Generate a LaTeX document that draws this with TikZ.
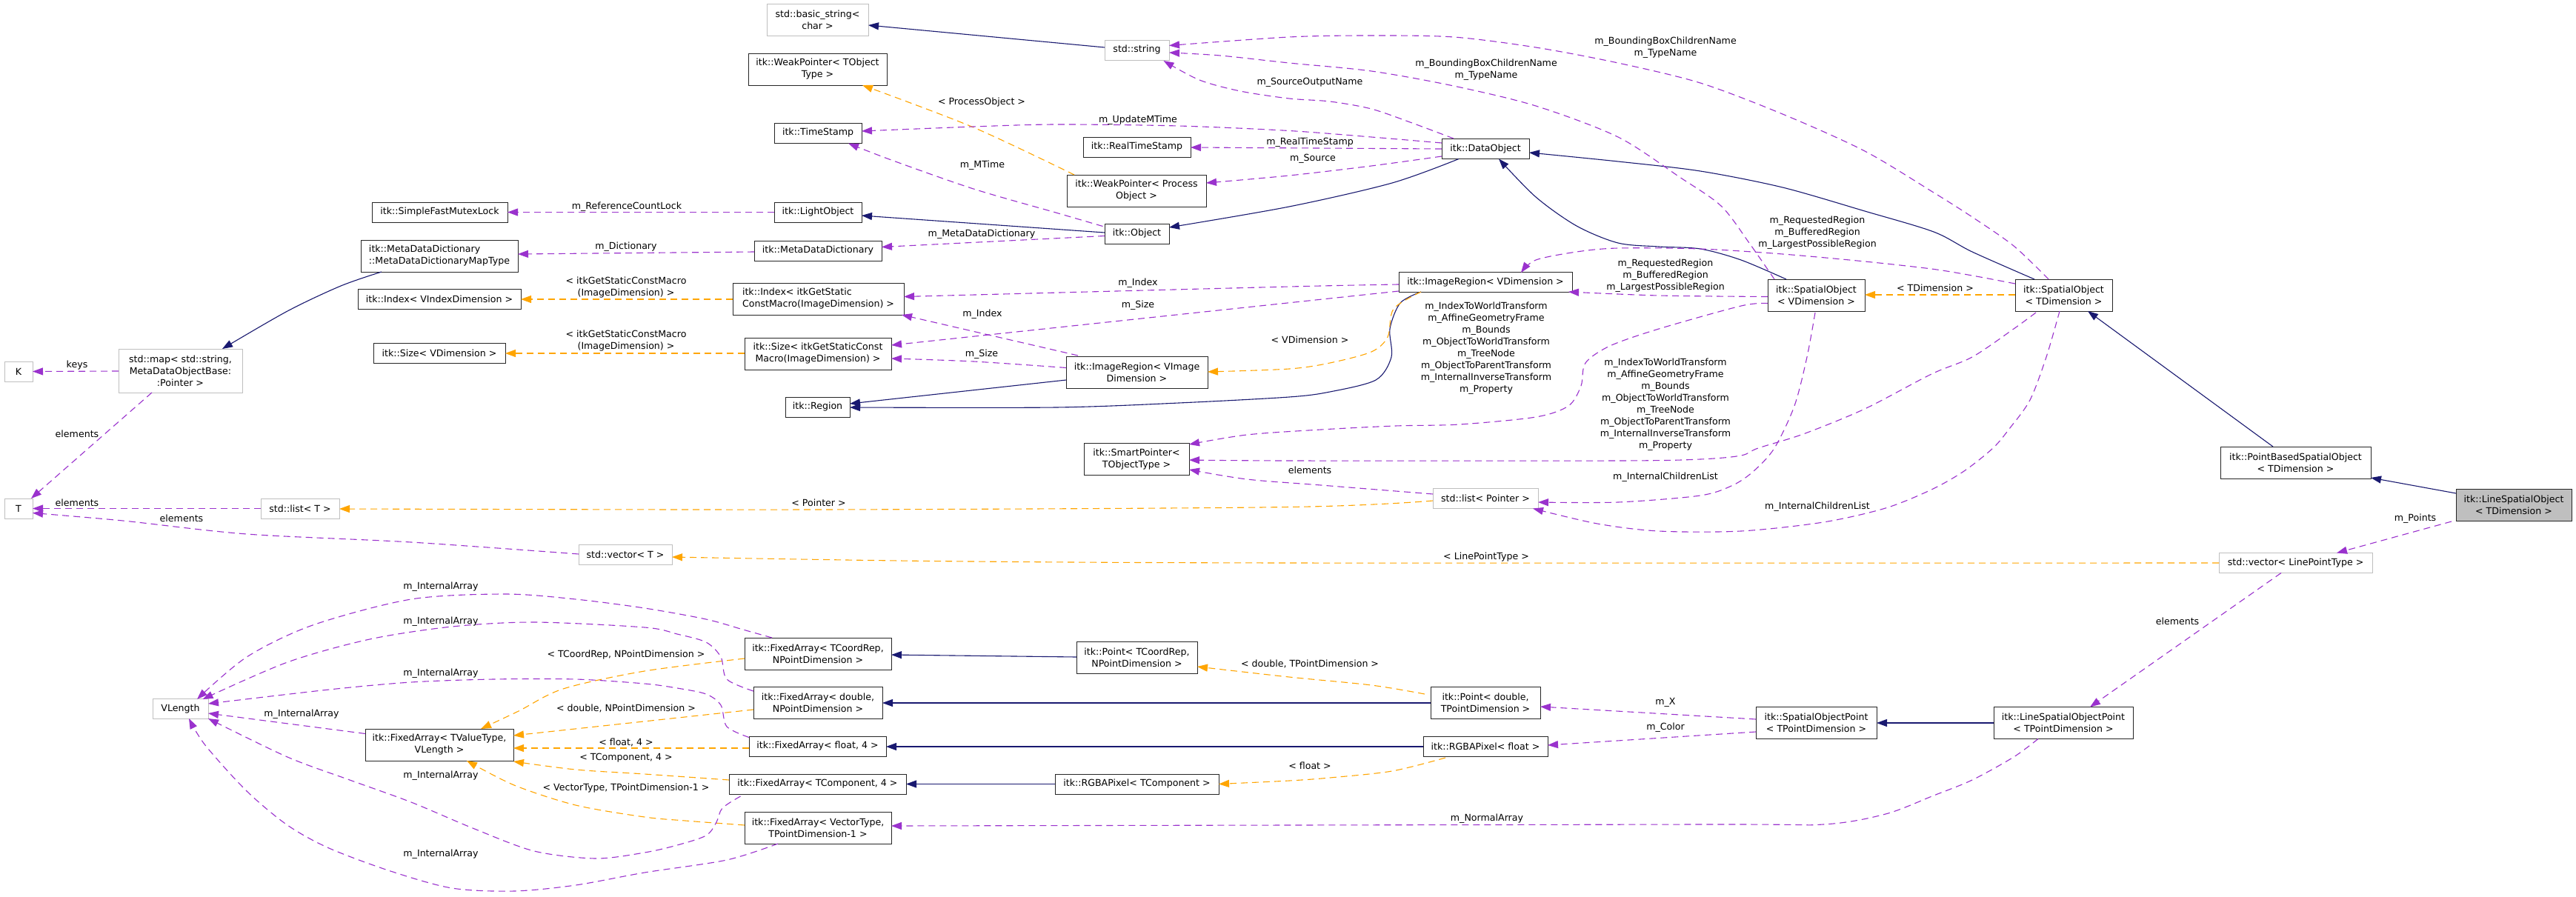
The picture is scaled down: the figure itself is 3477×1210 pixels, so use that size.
\documentclass[tikz,border=0pt]{standalone}
\usepackage{fontspec}
\setmainfont{DejaVu Sans}
\usetikzlibrary{arrows.meta,calc}
\definecolor{navyc}{HTML}{191970}
\definecolor{purp}{HTML}{9A32CD}
\definecolor{orng}{HTML}{FFA500}
\definecolor{graybd}{HTML}{BFBFBF}
\begin{document}
\begin{tikzpicture}[x=1pt,y=-1pt,
  every node/.style={font=\fontsize{12.6}{16}\selectfont, inner sep=0pt},
  cls/.style={draw=black!85, line width=1pt, fill=white, align=center},
  ext/.style={cls, draw=graybd},
  lbl/.style={align=center},
  inh/.style={draw=navyc, line width=1.1pt, -{Triangle[length=14pt,width=10pt]}},
  mem/.style={draw=purp, line width=1.1pt, dash pattern=on 9pt off 6pt, -{Triangle[length=14pt,width=10pt]}},
  tpl/.style={draw=orng, line width=1.1pt, dash pattern=on 9pt off 6pt, -{Triangle[length=14pt,width=10pt]}},
]
\fill[white] (0,0) rectangle (3477,1210);
\useasboundingbox (0,0) rectangle (3477,1210);

% ---------- nodes ----------
\node[ext, minimum width=137pt, minimum height=43pt] (bstr) at (1103.5,26.5) {std::basic\_string<\\char >};
\node[ext, minimum width=87pt, minimum height=27pt] (str) at (1534.5,67.5) {std::string};
\node[cls, minimum width=187pt, minimum height=43pt] (wpto) at (1103.5,93.5) {itk::WeakPointer< TObject\\Type >};
\node[cls, minimum width=118pt, minimum height=27pt] (ts) at (1104,179.5) {itk::TimeStamp};
\node[cls, minimum width=145pt, minimum height=27pt] (rts) at (1534.5,198.5) {itk::RealTimeStamp};
\node[cls, minimum width=188pt, minimum height=43pt] (wppo) at (1534,257.5) {itk::WeakPointer< Process\\Object >};
\node[cls, minimum width=183pt, minimum height=27pt] (sfml) at (593.5,286.5) {itk::SimpleFastMutexLock};
\node[cls, minimum width=118pt, minimum height=27pt] (lo) at (1104,286.5) {itk::LightObject};
\node[cls, minimum width=87pt, minimum height=27pt] (obj) at (1534.5,315.5) {itk::Object};
\node[cls, align=left, minimum width=212pt, minimum height=43pt] (mdmt) at (593,345.5) {itk::MetaDataDictionary\\::MetaDataDictionaryMapType};
\node[cls, minimum width=172pt, minimum height=27pt] (mdd) at (1104,338.5) {itk::MetaDataDictionary};
\node[cls, minimum width=220pt, minimum height=27pt] (idxv) at (593,404) {itk::Index< VIndexDimension >};
\node[cls, align=left, minimum width=231pt, minimum height=43pt] (idxg) at (1104.5,403.5) {itk::Index< itkGetStatic\\ConstMacro(ImageDimension) >};
\node[cls, minimum width=178pt, minimum height=27pt] (sizev) at (593,477) {itk::Size< VDimension >};
\node[cls, minimum width=198pt, minimum height=43pt] (sizeg) at (1104,477.5) {itk::Size< itkGetStaticConst\\Macro(ImageDimension) >};
\node[cls, minimum width=87pt, minimum height=27pt] (region) at (1103.5,549.5) {itk::Region};
\node[cls, minimum width=191pt, minimum height=43pt] (irvi) at (1534.5,502.5) {itk::ImageRegion< VImage\\Dimension >};
\node[cls, minimum width=142pt, minimum height=43pt] (spt) at (1534,620) {itk::SmartPointer<\\TObjectType >};
\node[cls, minimum width=118pt, minimum height=27pt] (dobj) at (2005,201) {itk::DataObject};
\node[cls, minimum width=234pt, minimum height=27pt] (irv) at (2005,381) {itk::ImageRegion< VDimension >};
\node[cls, minimum width=131pt, minimum height=43pt] (sov) at (2451.5,398.5) {itk::SpatialObject\\< VDimension >};
\node[cls, minimum width=131pt, minimum height=43pt] (sot) at (2785.5,398.5) {itk::SpatialObject\\< TDimension >};
\node[cls, minimum width=203pt, minimum height=43pt] (pbso) at (3098.5,624.5) {itk::PointBasedSpatialObject\\< TDimension >};
\node[cls, fill=graybd, minimum width=156pt, minimum height=43pt] (lso) at (3393,681.5) {itk::LineSpatialObject\\< TDimension >};
\node[ext, minimum width=207pt, minimum height=27pt] (vlpt) at (3098.5,760) {std::vector< LinePointType >};
\node[cls, minimum width=188pt, minimum height=43pt] (lsop) at (2785,976) {itk::LineSpatialObjectPoint\\< TPointDimension >};
\node[cls, minimum width=163pt, minimum height=43pt] (sop) at (2451.5,976) {itk::SpatialObjectPoint\\< TPointDimension >};
\node[cls, minimum width=148pt, minimum height=43pt] (pd) at (2005,949) {itk::Point< double,\\TPointDimension >};
\node[cls, minimum width=168pt, minimum height=27pt] (rgbaf) at (2005,1007.5) {itk::RGBAPixel< float >};
\node[ext, minimum width=142pt, minimum height=27pt] (lp) at (2005,673) {std::list< Pointer >};
\node[cls, minimum width=163pt, minimum height=43pt] (ptc) at (1534.5,887.5) {itk::Point< TCoordRep,\\NPointDimension >};
\node[cls, minimum width=221pt, minimum height=27pt] (rgbat) at (1534.5,1058.5) {itk::RGBAPixel< TComponent >};
\node[cls, minimum width=198pt, minimum height=43pt] (fatc) at (1104,882.5) {itk::FixedArray< TCoordRep,\\NPointDimension >};
\node[cls, minimum width=174pt, minimum height=43pt] (fad) at (1104,949) {itk::FixedArray< double,\\NPointDimension >};
\node[cls, minimum width=185pt, minimum height=27pt] (faf) at (1103.5,1007.5) {itk::FixedArray< float, 4 >};
\node[cls, minimum width=239pt, minimum height=27pt] (fatcomp) at (1103.5,1058.5) {itk::FixedArray< TComponent, 4 >};
\node[cls, minimum width=198pt, minimum height=43pt] (favt) at (1104,1117.5) {itk::FixedArray< VectorType,\\TPointDimension-1 >};
\node[cls, minimum width=200pt, minimum height=43pt] (fatv) at (593,1005.5) {itk::FixedArray< TValueType,\\VLength >};
\node[ext, minimum width=75pt, minimum height=27pt] (vlen) at (243.5,957) {VLength};
\node[ext, minimum width=167pt, minimum height=59pt] (map) at (243.5,500.5) {std::map< std::string,\\MetaDataObjectBase:\\:Pointer >};
\node[ext, minimum width=38pt, minimum height=27pt] (kk) at (25,501.5) {K};
\node[ext, minimum width=38pt, minimum height=27pt] (tt) at (25,686.5) {T};
\node[ext, minimum width=106pt, minimum height=27pt] (lt) at (405,686.5) {std::list< T >};
\node[ext, minimum width=126pt, minimum height=27pt] (vt) at (844,749) {std::vector< T >};

% ---------- inheritance ----------
\draw[inh] ($(str)+(-43.5,-3.5)$) -- ($(bstr)+(68.5,7.5)$);
\draw[inh] ($(obj)+(-43.5,-1.5)$) -- ($(lo)+(59,4.5)$);
\draw[inh] plot[smooth] coordinates {($(dobj)+(-36,13.5)$) (1879,247) (1740,279) ($(obj)+(43.5,-8.5)$)};
\draw[inh] plot[smooth] coordinates {($(sov)+(-40.5,-21.5)$) (2350,351) (2295,336) (2239,333) (2184,328) (2128,305) (2073,266) ($(dobj)+(18,13.5)$)};
\draw[inh] plot[smooth] coordinates {($(sot)+(-39.5,-21.5)$) (2662,340) (2610,313) (2517,285) (2406,253) (2295,231) (2184,218) ($(dobj)+(59,5)$)};
\draw[inh] ($(irvi)+(-95.5,10.5)$) -- ($(region)+(43.5,-4.5)$);
\draw[inh] plot[smooth] coordinates {($(irv)+(-87,13)$) (1890,409) (1876,444) (1878,482) (1857,513) (1795,529) (1740,536) (1591,544) (1425,550) ($(region)+(43.5,0.5)$)};
\draw[inh] plot[smooth] coordinates {($(mdmt)+(-78,21.5)$) (460,386) (388,420) ($(map)+(56.5,-29.5)$)};
\draw[inh] ($(pbso)+(-30.5,-21.5)$) -- ($(sot)+(32.5,21.5)$);
\draw[inh] ($(lso)+(-78,-15.5)$) -- ($(pbso)+(101.5,20.5)$);
\draw[inh] ($(ptc)+(-81.5,-0.5)$) -- ($(fatc)+(99,1.5)$);
\draw[inh] ($(pd)+(-74,0)$) -- ($(fad)+(87,0)$);
\draw[inh] ($(rgbaf)+(-84,0.5)$) -- ($(faf)+(92.5,0.5)$);
\draw[inh] ($(rgbat)+(-110.5,0)$) -- ($(fatcomp)+(119.5,0)$);
\draw[inh] ($(lsop)+(-94,0)$) -- ($(sop)+(81.5,0)$);

% ---------- template instances ----------
\draw[tpl] plot[smooth] coordinates {($(wppo)+(-84,-21.5)$) (1314,172) ($(wpto)+(60.5,21.5)$)};
\draw[tpl] ($(idxg)+(-115.5,0.5)$) -- ($(idxv)+(110,0)$);
\draw[tpl] ($(sizeg)+(-99,-0.5)$) -- ($(sizev)+(89,0)$);
\draw[tpl] plot[smooth] coordinates {($(irv)+(-87,13)$) (1881,417) (1873,455) (1851,475) (1795,490) (1740,498) ($(irvi)+(95.5,-0.5)$)};
\draw[tpl] ($(sot)+(-65.5,-0.5)$) -- ($(sov)+(65.5,-0.5)$);
\draw[tpl] plot[smooth] coordinates {($(lp)+(-71,3)$) (1740,684.5) (1100,688) ($(lt)+(53,0.5)$)};
\draw[tpl] plot[smooth] coordinates {($(vlpt)+(-103.5,0)$) (1740,760) (1258,757.5) ($(vt)+(63,3)$)};
\draw[tpl] plot[smooth] coordinates {($(fatc)+(-99,6.5)$) (870,906) (760,930) (700,960) ($(fatv)+(56,-21.5)$)};
\draw[tpl] ($(fad)+(-87,9)$) -- ($(fatv)+(100,-12.5)$);
\draw[tpl] ($(faf)+(-92.5,2.5)$) -- ($(fatv)+(100,4.5)$);
\draw[tpl] plot[smooth] coordinates {($(fatcomp)+(-119.5,-5.5)$) (870,1045) (777,1039) ($(fatv)+(100,22.5)$)};
\draw[tpl] plot[smooth] coordinates {($(favt)+(-99,-3.5)$) (925,1108) (870,1103) (777,1087) (694,1060) ($(fatv)+(37,21.5)$)};
\draw[tpl] plot[smooth] coordinates {($(pd)+(-82,-12)$) (1851,925) (1740,914) ($(ptc)+(81.5,12.5)$)};
\draw[tpl] plot[smooth] coordinates {($(rgbaf)+(-54,15.5)$) (1879,1041) (1795,1050) (1740,1054) ($(rgbat)+(110.5,0)$)};

% ---------- members ----------
\draw[mem] ($(lso)+(-84,22.5)$) -- ($(vlpt)+(55.5,-13.5)$);
\draw[mem] ($(vlpt)+(-19.5,13.5)$) -- ($(lsop)+(36,-21.5)$);
\draw[mem] plot[smooth] coordinates {($(lsop)+(-34,21.5)$) (2718,1022) (2662,1053) (2610,1074) (2545,1099) (2461,1113) (2295,1113) ($(favt)+(99,-2.5)$)};
\draw[mem] ($(sop)+(-81.5,-5)$) -- ($(pd)+(74,5)$);
\draw[mem] ($(sop)+(-81.5,12)$) -- ($(rgbaf)+(84,-1.5)$);
\draw[mem] ($(fatv)+(-100,-15)$) -- ($(vlen)+(37.5,6)$);
\draw[mem] plot[smooth] coordinates {($(fatc)+(-62,-21.5)$) (1003,850) (953,836) (870,821) (777,809) (682,802) (555,809) (422,844) (333,887) ($(vlen)+(22.5,-13)$)};
\draw[mem] plot[smooth] coordinates {($(fad)+(-87,-16)$) (981,917) (973,887) (953,867) (914,856) (870,847) (721,840) (610,846) (499,863) (388,894) ($(vlen)+(30,-13)$)};
\draw[mem] plot[smooth] coordinates {($(faf)+(-92.5,-12)$) (981,981) (973,952) (953,937) (914,929) (870,923) (777,917) (666,917) (555,921) (444,931) ($(vlen)+(37.5,-7)$)};
\draw[mem] plot[smooth] coordinates {($(fatcomp)+(-104,16.5)$) (975,1091) (967,1110) (953,1128) (914,1141) (870,1151) (804,1159) (721,1149) (638,1118) (555,1083) (472,1053) (388,1022) ($(vlen)+(37.5,13)$)};
\draw[mem] plot[smooth] coordinates {($(favt)+(-54,21.5)$) (981,1161) (870,1178) (777,1195) (694,1203) (610,1199) (527,1176) (444,1145) (388,1114) (333,1068) (277,1006) ($(vlen)+(11.5,13)$)};
\draw[mem] plot[smooth] coordinates {($(sot)+(-20.5,-21.5)$) (2718,332) (2662,293) (2610,260) (2517,204) (2406,154) (2295,112) (2184,85) (2073,64) (1962,50) (1851,48) (1740,50) ($(str)+(43.5,-6)$)};
\draw[mem] plot[smooth] coordinates {($(sov)+(-56.5,-21.5)$) (2361,328) (2323,278) (2267,239) (2184,185) (2073,143) (1962,116) (1851,96) (1740,85) (1647,75) ($(str)+(43.5,3.5)$)};
\draw[mem] plot[smooth] coordinates {($(dobj)+(-43,-14)$) (1906,166) (1851,147) (1795,137) (1740,133) (1674,123) (1619,108) ($(str)+(36,14.5)$)};
\draw[mem] plot[smooth] coordinates {($(dobj)+(-59,-8)$) (1851,185) (1740,176.5) (1591,170) (1425,168) (1314,171) ($(ts)+(59,-2.5)$)};
\draw[mem] ($(dobj)+(-59,0)$) -- ($(rts)+(72.5,0.5)$);
\draw[mem] plot[smooth] coordinates {($(dobj)+(-59,10)$) (1851,224) (1740,237) ($(wppo)+(94,-10.5)$)};
\draw[mem] plot[smooth] coordinates {($(obj)+(-46,-10)$) (1425,287) (1314,255) (1203,216) ($(ts)+(41,14)$)};
\draw[mem] ($(lo)+(-59,0)$) -- ($(sfml)+(91.5,0)$);
\draw[mem] ($(obj)+(-43.5,3)$) -- ($(mdd)+(86,-5)$);
\draw[mem] ($(mdd)+(-86,1.5)$) -- ($(mdmt)+(106,-2.5)$);
\draw[mem] ($(map)+(-83.5,0.5)$) -- ($(kk)+(19,0)$);
\draw[mem] ($(map)+(-38.5,29.5)$) -- ($(tt)+(17,-13.5)$);
\draw[mem] ($(lt)+(-53,0)$) -- ($(tt)+(19,0)$);
\draw[mem] plot[smooth] coordinates {($(vt)+(-63,-1)$) (555,732) (333,721) (166,703) ($(tt)+(19,6)$)};
\draw[mem] plot[smooth] coordinates {($(lp)+(-71,-6)$) (1783,655) (1683,647) ($(spt)+(71,14)$)};
\draw[mem] plot[smooth] coordinates {($(sov)+(-65.5,11)$) (2350,413) (2239,444) (2173,467) (2140,490) (2134,521) (2117,548) (2073,563) (1970,573) (1883,575) (1783,580) (1683,587) ($(spt)+(71,-20)$)};
\draw[mem] plot[smooth] coordinates {($(sot)+(-37.5,23.5)$) (2718,444) (2662,482) (2607,505) (2517,552) (2434,586) (2373,605) (2350,615) (2295,620) (2184,622) (1740,622) ($(spt)+(71,1)$)};
\draw[mem] plot[smooth] coordinates {($(sov)+(-1.5,23.5)$) (2439,482) (2422,548) (2395,605) (2367,636) (2339,655) (2295,669) (2184,678) ($(lp)+(71,5)$)};
\draw[mem] plot[smooth] coordinates {($(sot)+(-5.5,21.5)$) (2762,482) (2740,540) (2712,579) (2690,605) (2651,636) (2607,661) (2545,686) (2461,705) (2350,717) (2239,717) (2156,707) ($(lp)+(64,13.5)$)};
\draw[mem] plot[smooth] coordinates {($(sov)+(-65.5,2)$) (2239,399) ($(irv)+(112,13)$)};
\draw[mem] plot[smooth] coordinates {($(sot)+(-65.5,-15.5)$) (2662,372) (2607,363) (2517,353) (2406,343) (2295,336) (2184,335) (2128,340) (2073,351) ($(irv)+(48,-13)$)};
\draw[mem] plot[smooth] coordinates {($(irv)+(-117,3)$) (1740,387) ($(idxg)+(115.5,-3)$)};
\draw[mem] ($(irv)+(-117,12)$) -- ($(sizeg)+(99,-11.5)$);
\draw[mem] ($(irvi)+(-79.5,-22.5)$) -- ($(idxg)+(112.5,21.5)$);
\draw[mem] plot[smooth] coordinates {($(irvi)+(-95.5,-6)$) (1314,488) ($(sizeg)+(99,6.5)$)};

% ---------- labels ----------
\node[lbl] (l1) at (1325,138) {< ProcessObject >};
\node[lbl] (l2) at (1536,162) {m\_UpdateMTime};
\node[lbl] (l3) at (1768,111) {m\_SourceOutputName};
\node[lbl] (l4) at (1768,192) {m\_RealTimeStamp};
\node[lbl] (l5) at (1772,214) {m\_Source};
\node[lbl] (l6) at (1326,223) {m\_MTime};
\node[lbl] (l7) at (846,279) {m\_ReferenceCountLock};
\node[lbl] (l8) at (1325,316) {m\_MetaDataDictionary};
\node[lbl] (l9) at (845,333) {m\_Dictionary};
\node[lbl] (l10) at (845,388) {< itkGetStaticConstMacro\\(ImageDimension) >};
\node[lbl] (l11) at (845,460) {< itkGetStaticConstMacro\\(ImageDimension) >};
\node[lbl] (l12) at (1536,382) {m\_Index};
\node[lbl] (l13) at (1536,412) {m\_Size};
\node[lbl] (l14) at (1326,424) {m\_Index};
\node[lbl] (l15) at (1325,478) {m\_Size};
\node[lbl] (l16) at (1768,459) {< VDimension >};
\node[lbl] (l17) at (2248,64) {m\_BoundingBoxChildrenName\\m\_TypeName};
\node[lbl] (l18) at (2006,94.5) {m\_BoundingBoxChildrenName\\m\_TypeName};
\node[lbl] (l19) at (2453,314.5) {m\_RequestedRegion\\m\_BufferedRegion\\m\_LargestPossibleRegion};
\node[lbl] (l20) at (2248,372.5) {m\_RequestedRegion\\m\_BufferedRegion\\m\_LargestPossibleRegion};
\node[lbl] (l21) at (2612,389) {< TDimension >};
\node[lbl] (l22) at (2006,470.5) {m\_IndexToWorldTransform\\m\_AffineGeometryFrame\\m\_Bounds\\m\_ObjectToWorldTransform\\m\_TreeNode\\m\_ObjectToParentTransform\\m\_InternalInverseTransform\\m\_Property};
\node[lbl] (l23) at (2248,546.5) {m\_IndexToWorldTransform\\m\_AffineGeometryFrame\\m\_Bounds\\m\_ObjectToWorldTransform\\m\_TreeNode\\m\_ObjectToParentTransform\\m\_InternalInverseTransform\\m\_Property};
\node[lbl] (l24) at (2248,644) {m\_InternalChildrenList};
\node[lbl] (l25) at (2453,684) {m\_InternalChildrenList};
\node[lbl] (l26) at (1768,635) {elements};
\node[lbl] (l27) at (1105,679) {< Pointer >};
\node[lbl] (l28) at (2006,752) {< LinePointType >};
\node[lbl] (l29) at (3260,700) {m\_Points};
\node[lbl] (l30) at (2939,839) {elements};
\node[lbl] (l31) at (104,493) {keys};
\node[lbl] (l32) at (104,586) {elements};
\node[lbl] (l33) at (104,679) {elements};
\node[lbl] (l34) at (245,700) {elements};
\node[lbl] (l35) at (595,792) {m\_InternalArray};
\node[lbl] (l36) at (595,839) {m\_InternalArray};
\node[lbl] (l37) at (595,909) {m\_InternalArray};
\node[lbl] (l38) at (407,964) {m\_InternalArray};
\node[lbl] (l39) at (595,1047) {m\_InternalArray};
\node[lbl] (l40) at (595,1153) {m\_InternalArray};
\node[lbl] (l41) at (845,884) {< TCoordRep, NPointDimension >};
\node[lbl] (l42) at (845,956) {< double, NPointDimension >};
\node[lbl] (l43) at (845,1002) {< float, 4 >};
\node[lbl] (l44) at (845,1023) {< TComponent, 4 >};
\node[lbl] (l45) at (845,1064) {< VectorType, TPointDimension-1 >};
\node[lbl] (l46) at (1768,896) {< double, TPointDimension >};
\node[lbl] (l47) at (1768,1034) {< float >};
\node[lbl] (l48) at (2248,948) {m\_X};
\node[lbl] (l49) at (2248,982) {m\_Color};
\node[lbl] (l50) at (2007,1105) {m\_NormalArray};
\end{tikzpicture}
\end{document}
